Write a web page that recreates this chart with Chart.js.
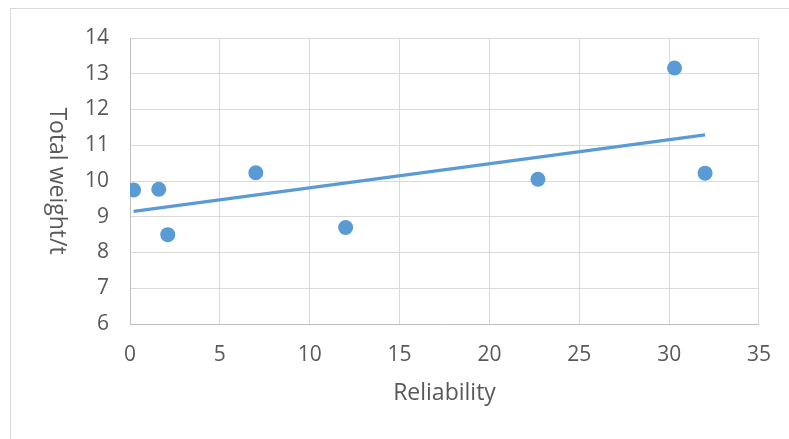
<!DOCTYPE html>
<html>
<head>
<meta charset="utf-8">
<script src="https://cdn.jsdelivr.net/npm/chart.js@4"></script>
<style>
  body { margin: 0; background: #fff; }
  #wrap { position: relative; width: 789px; height: 439px; overflow: hidden; }
  #frame { position: absolute; left: 10px; top: 8px; width: 800px; height: 460px; border: 1px solid #d9d9d9; }
  #myChart { position: absolute; left: 0; top: 0; }
</style>
</head>
<body>
<div id="wrap">
  <div id="frame"></div>
  <canvas id="myChart" width="789" height="439"></canvas>
</div>
<script>
// dados
var reliability = [0.2, 1.6, 2.1, 7.0, 12.0, 22.7, 30.3, 32.0];
var totalWeight = [9.75, 9.77, 8.5, 10.23, 8.7, 10.05, 13.16, 10.22];

// linha de tendencia (pontas)
var trendReliability = [0.2, 32.0];
var trendWeight = [9.15, 11.29];

var xTitle = 'Reliability';
var yTitle = 'Total weight/t';

var blue = '#5b9bd5';
var textColor = '#595959';
var tickFont = { family: 'Open Sans', size: 21 };
var titleFont = { family: 'Open Sans', size: 23 };

function toPoints(xs, ys) {
    var out = [];
    for (var i = 0; i < xs.length; i++) {
        out.push({ x: xs[i], y: ys[i] });
    }
    return out;
}

// titulo do eixo y, lido de cima para baixo
var yTitlePlugin = {
    id: 'yTitle',
    afterDraw: function (chart) {
        var ctx = chart.ctx;
        var area = chart.chartArea;
        ctx.save();
        ctx.translate(57, (area.top + area.bottom) / 2);
        ctx.rotate(Math.PI / 2);
        ctx.font = '23px "Open Sans"';
        ctx.fillStyle = textColor;
        ctx.textAlign = 'center';
        ctx.textBaseline = 'middle';
        ctx.fillText(yTitle, 0, 0);
        ctx.restore();
    }
};

const data = {
    datasets: [{
        label: 'pontos',
        data: toPoints(reliability, totalWeight),
        backgroundColor: blue,
        borderWidth: 0,
        pointRadius: 7.5,
        pointHoverRadius: 7.5,
        order: 1
    }, {
        label: 'tendencia',
        data: toPoints(trendReliability, trendWeight),
        showLine: true,
        borderColor: blue,
        borderWidth: 3.3,
        pointRadius: 0,
        fill: false,
        order: 2
    }]
};

const config = {
    type: 'scatter',
    data,
    options: {
        responsive: false,
        animation: false,
        layout: { padding: { left: 0, top: 38, right: 29, bottom: 0 } },
        plugins: {
            legend: { display: false },
            tooltip: { enabled: false }
        },
        scales: {
            x: {
                type: 'linear',
                min: 0,
                max: 35,
                afterFit: function (scale) { scale.height = 115; },
                ticks: { stepSize: 5, color: textColor, font: tickFont, padding: 18, maxRotation: 0 },
                grid: { color: '#d9d9d9', drawTicks: false },
                border: { color: '#bfbfbf' },
                title: { display: true, text: xTitle, color: textColor, font: titleFont, padding: { top: 0, bottom: 32 } }
            },
            y: {
                min: 6,
                max: 14,
                afterFit: function (scale) { scale.width = 130; },
                ticks: { stepSize: 1, color: textColor, font: tickFont, padding: 21 },
                grid: { color: '#d9d9d9', drawTicks: false },
                border: { color: '#bfbfbf' }
            }
        }
    },
    plugins: [yTitlePlugin]
};

var myChart = new Chart(document.getElementById('myChart'), config);
</script>
</body>
</html>
